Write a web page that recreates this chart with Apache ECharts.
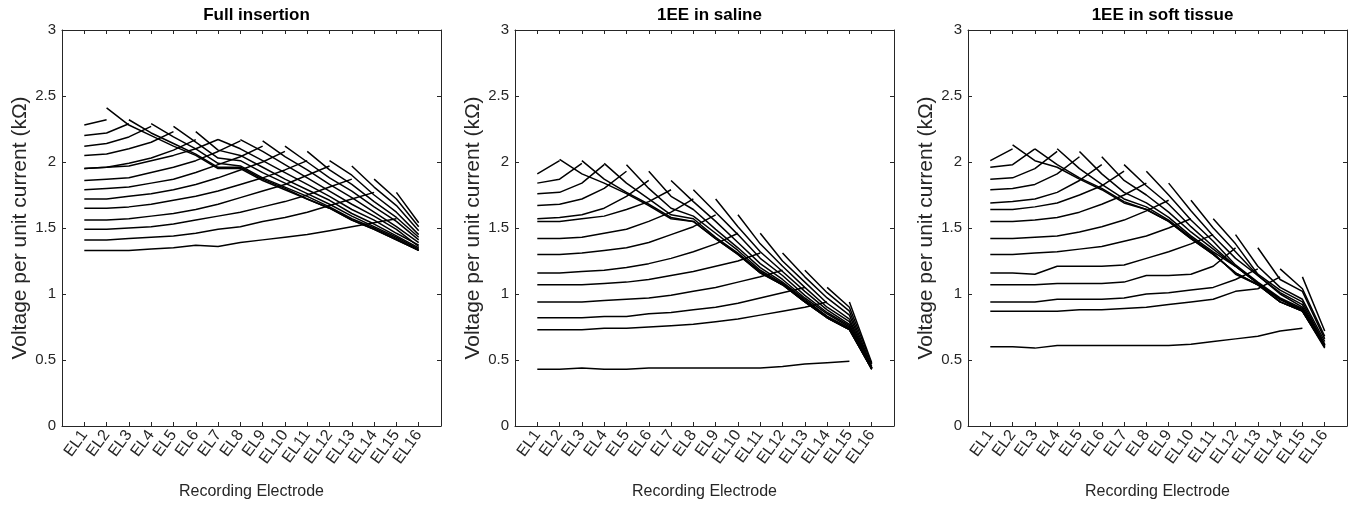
<!DOCTYPE html>
<html>
<head>
<meta charset="utf-8">
<script src="https://cdn.jsdelivr.net/npm/echarts@6/dist/echarts.min.js"></script>
<style>
html,body{margin:0;padding:0;background:#fff;}
#chart{width:1362px;height:507px;}
</style>
</head>
<body>
<div id="chart"></div>
<script>
// Categories (recording electrodes)
const electrodes = ['EL1','EL2','EL3','EL4','EL5','EL6','EL7','EL8','EL9','EL10','EL11','EL12','EL13','EL14','EL15','EL16'];
const yTickLabels = ['0','0.5','1','1.5','2','2.5','3'];
const panelTitles = ['Full insertion', '1EE in saline', '1EE in soft tissue'];

// One row per stimulating electrode (EL1..EL16); null at the stimulating electrode itself.
const fullInsertion = [
  [null,2.41,2.28,2.20,2.12,2.05,1.95,1.95,1.86,1.79,1.72,1.65,1.56,1.49,1.41,1.33],
  [2.41,null,2.32,2.22,2.14,2.06,1.96,1.96,1.87,1.80,1.72,1.65,1.56,1.49,1.41,1.33],
  [2.28,2.32,null,2.29,2.19,2.10,1.99,1.97,1.88,1.81,1.74,1.66,1.57,1.50,1.42,1.33],
  [2.20,2.22,2.29,null,2.27,2.15,2.03,2.01,1.92,1.84,1.76,1.68,1.59,1.51,1.43,1.34],
  [2.12,2.14,2.19,2.27,null,2.23,2.09,2.05,1.96,1.87,1.79,1.71,1.61,1.53,1.44,1.35],
  [2.05,2.06,2.10,2.15,2.23,null,2.17,2.10,2.01,1.92,1.83,1.74,1.64,1.56,1.46,1.37],
  [1.95,1.96,1.99,2.03,2.09,2.17,null,2.17,2.08,1.98,1.88,1.78,1.68,1.59,1.49,1.36],
  [1.95,1.96,1.97,2.01,2.05,2.10,2.17,null,2.16,2.04,1.94,1.83,1.73,1.62,1.51,1.39],
  [1.86,1.87,1.88,1.92,1.96,2.01,2.08,2.16,null,2.12,2.00,1.88,1.78,1.66,1.55,1.41],
  [1.79,1.80,1.81,1.84,1.87,1.92,1.98,2.04,2.12,null,2.08,1.94,1.83,1.70,1.58,1.43],
  [1.72,1.72,1.74,1.76,1.79,1.83,1.88,1.94,2.00,2.08,null,2.01,1.90,1.75,1.62,1.45],
  [1.65,1.65,1.66,1.68,1.71,1.74,1.78,1.83,1.88,1.94,2.01,null,1.97,1.81,1.67,1.48],
  [1.56,1.56,1.57,1.59,1.61,1.64,1.68,1.73,1.78,1.83,1.90,1.97,null,1.87,1.72,1.51],
  [1.49,1.49,1.50,1.51,1.53,1.56,1.59,1.62,1.66,1.70,1.75,1.81,1.87,null,1.77,1.54],
  [1.41,1.41,1.42,1.43,1.44,1.46,1.49,1.51,1.55,1.58,1.62,1.67,1.72,1.77,null,1.57],
  [1.33,1.33,1.33,1.34,1.35,1.37,1.36,1.39,1.41,1.43,1.45,1.48,1.51,1.54,1.57,null]
];

const inSaline = [
  [null,2.02,1.91,1.84,1.76,1.67,1.57,1.55,1.42,1.30,1.16,1.07,0.94,0.82,0.73,0.43],
  [2.02,null,2.01,1.87,1.77,1.68,1.58,1.55,1.42,1.30,1.16,1.07,0.94,0.82,0.73,0.43],
  [1.91,2.01,null,1.99,1.84,1.72,1.60,1.57,1.43,1.31,1.17,1.07,0.94,0.82,0.73,0.44],
  [1.84,1.87,1.99,null,1.98,1.80,1.65,1.59,1.46,1.33,1.18,1.08,0.95,0.83,0.74,0.43],
  [1.76,1.77,1.84,1.98,null,1.93,1.74,1.64,1.49,1.35,1.20,1.09,0.96,0.83,0.74,0.43],
  [1.67,1.68,1.72,1.80,1.93,null,1.86,1.70,1.55,1.39,1.23,1.11,0.97,0.85,0.75,0.44],
  [1.57,1.58,1.60,1.65,1.74,1.86,null,1.79,1.62,1.45,1.27,1.14,0.99,0.86,0.76,0.44],
  [1.55,1.55,1.57,1.59,1.64,1.70,1.79,null,1.72,1.51,1.32,1.17,1.02,0.88,0.77,0.44],
  [1.42,1.42,1.43,1.46,1.49,1.55,1.62,1.72,null,1.60,1.38,1.21,1.05,0.90,0.79,0.44],
  [1.30,1.30,1.31,1.33,1.35,1.39,1.45,1.51,1.60,null,1.46,1.25,1.09,0.93,0.81,0.44],
  [1.16,1.16,1.17,1.18,1.20,1.23,1.27,1.32,1.38,1.46,null,1.31,1.13,0.97,0.84,0.44],
  [1.07,1.07,1.07,1.08,1.09,1.11,1.14,1.17,1.21,1.25,1.31,null,1.18,1.01,0.87,0.45],
  [0.94,0.94,0.94,0.95,0.96,0.97,0.99,1.02,1.05,1.09,1.13,1.18,null,1.05,0.90,0.47],
  [0.82,0.82,0.82,0.83,0.83,0.85,0.86,0.88,0.90,0.93,0.97,1.01,1.05,null,0.94,0.48],
  [0.73,0.73,0.73,0.74,0.74,0.75,0.76,0.77,0.79,0.81,0.84,0.87,0.90,0.94,null,0.49],
  [0.43,0.43,0.44,0.43,0.43,0.44,0.44,0.44,0.44,0.44,0.44,0.45,0.47,0.48,0.49,null]
];

const inSoftTissue = [
  [null,2.13,2.01,1.96,1.87,1.79,1.69,1.64,1.55,1.42,1.30,1.16,1.07,0.94,0.87,0.60],
  [2.13,null,2.10,1.98,1.88,1.80,1.70,1.64,1.55,1.42,1.30,1.16,1.07,0.94,0.87,0.60],
  [2.01,2.10,null,2.10,1.95,1.83,1.72,1.66,1.56,1.43,1.31,1.15,1.07,0.94,0.87,0.59],
  [1.96,1.98,2.10,null,2.08,1.91,1.77,1.69,1.58,1.44,1.32,1.21,1.08,0.96,0.87,0.61],
  [1.87,1.88,1.95,2.08,null,2.04,1.86,1.75,1.62,1.47,1.34,1.21,1.08,0.96,0.88,0.61],
  [1.79,1.80,1.83,1.91,2.04,null,1.98,1.82,1.68,1.51,1.36,1.21,1.08,0.96,0.88,0.61],
  [1.69,1.70,1.72,1.77,1.86,1.98,null,1.93,1.75,1.56,1.40,1.22,1.09,0.97,0.89,0.61],
  [1.64,1.64,1.66,1.69,1.75,1.82,1.93,null,1.84,1.63,1.44,1.27,1.14,1.00,0.90,0.61],
  [1.55,1.55,1.56,1.58,1.62,1.68,1.75,1.84,null,1.71,1.50,1.32,1.14,1.01,0.92,0.61],
  [1.42,1.42,1.43,1.44,1.47,1.51,1.56,1.63,1.71,null,1.57,1.38,1.15,1.03,0.94,0.62],
  [1.30,1.30,1.31,1.32,1.34,1.36,1.40,1.44,1.50,1.57,null,1.45,1.21,1.05,0.96,0.64],
  [1.16,1.16,1.15,1.21,1.21,1.21,1.22,1.27,1.32,1.38,1.45,null,1.35,1.11,1.02,0.66],
  [1.07,1.07,1.07,1.08,1.08,1.08,1.09,1.14,1.14,1.15,1.21,1.35,null,1.19,1.04,0.68],
  [0.94,0.94,0.94,0.96,0.96,0.96,0.97,1.00,1.01,1.03,1.05,1.11,1.19,null,1.13,0.72],
  [0.87,0.87,0.87,0.87,0.88,0.88,0.89,0.90,0.92,0.94,0.96,1.02,1.04,1.13,null,0.74],
  [0.60,0.60,0.59,0.61,0.61,0.61,0.61,0.61,0.61,0.62,0.64,0.66,0.68,0.72,0.74,null]
];

const panelData = [fullInsertion, inSaline, inSoftTissue];

// ---- layout / styling ----
const FONT = '"Liberation Sans", Arial, Helvetica, sans-serif';
const INK = '#262626';
const gridLefts = [62, 515, 968];
const gridTop = 30, gridW = 379, gridH = 396;

const grids = [], xAxes = [], yAxes = [], titles = [], series = [];
gridLefts.forEach((gl, p) => {
  grids.push({left: gl, top: gridTop, width: gridW, height: gridH, containLabel: false});
  titles.push({
    text: panelTitles[p], left: gl + gridW / 2, top: 2, textAlign: 'center',
    textStyle: {fontFamily: FONT, fontSize: 17, fontWeight: 'bold', color: '#000'}
  });
  const xCommon = {
    type: 'value', gridIndex: p, min: 0, max: electrodes.length + 1, interval: 1,
    splitLine: {show: false},
    axisLine: {show: true, onZero: false, lineStyle: {color: INK, width: 1}},
    axisTick: {show: true, inside: true, length: 4, lineStyle: {color: INK}}
  };
  xAxes.push(Object.assign({}, xCommon, {
    position: 'bottom',
    axisLabel: {
      show: true, rotate: 54, margin: 6, fontFamily: FONT, fontSize: 16, color: INK,
      formatter: v => (v >= 1 && v <= electrodes.length) ? electrodes[v - 1] : ''
    },
    name: 'Recording Electrode', nameLocation: 'middle', nameGap: 58,
    nameTextStyle: {fontFamily: FONT, fontSize: 16, color: INK}
  }));
  xAxes.push(Object.assign({}, xCommon, {position: 'top', axisLabel: {show: false}}));
  const yCommon = {
    type: 'value', gridIndex: p, min: 0, max: 3, interval: 0.5,
    splitLine: {show: false},
    axisLine: {show: true, onZero: false, lineStyle: {color: INK, width: 1}},
    axisTick: {show: true, inside: true, length: 4, lineStyle: {color: INK}}
  };
  yAxes.push(Object.assign({}, yCommon, {
    position: 'left',
    axisLabel: {show: true, margin: 6, fontFamily: FONT, fontSize: 15, color: INK,
      formatter: v => yTickLabels[Math.round(v * 2)]},
    name: 'Voltage per unit current (k\u03A9)', nameLocation: 'middle', nameGap: 31,
    nameTextStyle: {fontFamily: FONT, fontSize: 21, color: INK}
  }));
  yAxes.push(Object.assign({}, yCommon, {position: 'right', axisLabel: {show: false}}));

  panelData[p].forEach((row, s) => {
    series.push({
      type: 'line', xAxisIndex: 2 * p, yAxisIndex: 2 * p,
      data: row.map((v, k) => [k + 1, v === null ? '-' : v]),
      showSymbol: false, symbol: 'none', connectNulls: false, silent: true,
      lineStyle: {color: '#000', width: 1.5}, animation: false
    });
  });
});

const chart = echarts.init(document.getElementById('chart'), null, {renderer: 'canvas'});
chart.setOption({
  backgroundColor: '#fff', animation: false,
  title: titles, grid: grids, xAxis: xAxes, yAxis: yAxes, series: series
});
</script>
</body>
</html>
